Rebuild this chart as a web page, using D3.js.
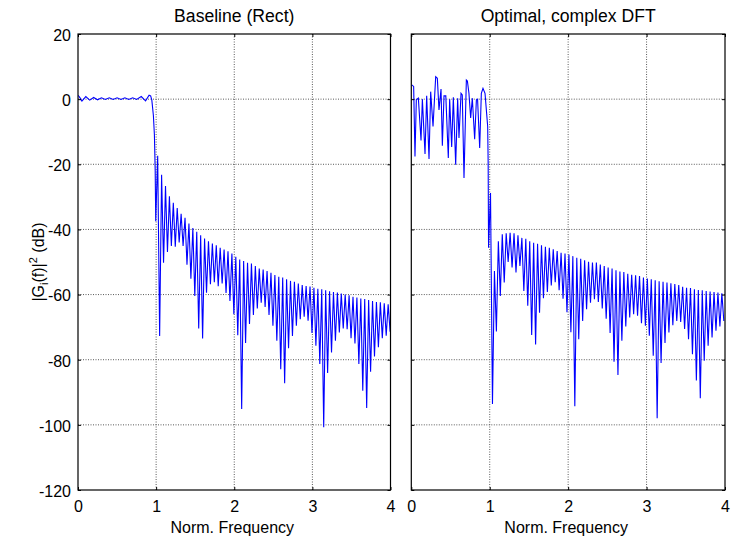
<!DOCTYPE html>
<html>
<head>
<meta charset="utf-8">
<script src="https://cdn.jsdelivr.net/npm/d3@7"></script>
<style>
  html, body { margin: 0; padding: 0; background: #fff; }
  svg { display: block; }
  text { font-family: "Liberation Sans", Arial, sans-serif; fill: #000; }
</style>
</head>
<body>
<svg id="chart" width="737" height="541"></svg>
<script>
// axis ticks
const freqTicks = [0, 1, 2, 3, 4];
const dbTicks = [20, 0, -20, -40, -60, -80, -100, -120];
const titles = ['Baseline (Rect)', 'Optimal, complex DFT'];

// sidelobe grid: nulls every lobeStep starting at *NullStart, peaks half-way between
const lobeStep = 0.05;

// ---- Baseline (Rect) ----
const rectPassF  = [0, 0.02, 0.05, 0.1, 0.15, 0.2, 0.25, 0.3, 0.35, 0.4, 0.45, 0.5, 0.55, 0.6, 0.65, 0.7, 0.75, 0.81, 0.865, 0.91, 0.93, 0.945, 0.965, 0.978, 0.988];
const rectPassDb = [1.2, 0.6, -0.6, 0.8, -0.3, 0.5, -0.2, 0.4, -0.1, 0.4, -0.1, 0.4, -0.1, 0.4, -0.1, 0.4, -0.1, 0.8, -0.5, 1.2, 1.0, -0.3, -5, -11, -22];
const rectNullStart = 0.995;
const rectNullDb = [-37.5, -72.7, -50.2, -46.9, -45.1, -45.3, -44.0, -45.1, -50.8, -55.1,
  -60.4, -70.4, -73.5, -59.4, -56.8, -56.2, -57.4, -56.6, -59.5, -62.0,
  -66.0, -72.5, -95.1, -74.9, -69.0, -66.3, -64.3, -62.5, -63.8, -66.3,
  -69.6, -74.2, -82.9, -87.2, -76.5, -72.7, -69.6, -67.6, -66.8, -68.0,
  -71.8, -75.7, -81.3, -100.7, -84.1, -77.8, -74.2, -71.6, -70.4, -70.6,
  -73.4, -75.0, -81.3, -89.5, -94.8, -83.7, -79.0, -76.2, -73.4, -72.6, -71.4];
const rectPeakDb = [-17.4, -23.2, -26.7, -29.8, -31.8, -33.4, -35.2, -36.4, -38.2, -39.6,
  -40.7, -41.8, -42.8, -43.6, -44.3, -44.9, -45.6, -46.2, -46.7, -47.4,
  -48.4, -49.2, -49.7, -50.2, -50.5, -51.2, -52.0, -52.3, -52.8, -53.3,
  -54.0, -54.5, -54.8, -55.3, -55.8, -56.1, -56.6, -57.1, -57.4, -57.5,
  -57.9, -58.2, -58.4, -58.7, -59.0, -59.2, -59.4, -59.7, -60.0, -60.2,
  -60.7, -60.9, -61.2, -61.4, -61.7, -62.0, -62.3, -62.4, -62.7, -63.0];

// ---- Optimal, complex DFT ----
const optPassF  = [0.005, 0.03, 0.047, 0.064, 0.09, 0.124, 0.141, 0.175, 0.196, 0.226, 0.247, 0.277, 0.311, 0.332, 0.353, 0.379, 0.396, 0.417, 0.44, 0.472, 0.489, 0.515, 0.536, 0.566, 0.591, 0.608, 0.634, 0.65, 0.672, 0.702, 0.715, 0.735, 0.757, 0.778, 0.808, 0.83, 0.845, 0.872, 0.893, 0.914, 0.94, 0.957, 0.974, 0.98];
const optPassDb = [4.4, 3.9, -17.6, -0.2, 0.3, -12.7, 0.0, -16.8, 1.0, -18.4, 2.3, -8.4, 6.9, 6.4, -3.3, 3.1, -14.3, 1.0, 1.0, -18.1, 0.0, -14.7, 0.6, -20.1, 0.3, -11.9, 1.8, 1.3, -24.2, 5.9, 5.6, 1.8, -5.8, 0.3, -12.3, -0.2, 0.0, -15.0, 1.8, 3.3, 1.8, -3.3, -8.4, -19.6];
const optNullStart = 0.985;
const optNullDb = [-45.6, -93.6, -71.3, -60.4, -56.3, -50.0, -51.7, -53.2, -51.2, -58.9,
  -63.4, -72.4, -75.3, -65.6, -61.1, -59.2, -57.2, -56.2, -58.7, -61.3,
  -65.4, -71.6, -94.3, -73.7, -68.1, -64.5, -62.5, -61.4, -62.3, -64.3,
  -67.4, -71.8, -80.6, -84.7, -74.2, -69.8, -67.0, -66.0, -66.5, -68.8,
  -69.6, -72.6, -78.8, -98.0, -81.0, -74.9, -71.6, -69.4, -68.1, -68.4,
  -70.6, -73.7, -78.3, -86.4, -91.8, -80.3, -75.7, -73.2, -71.1, -69.8, -68.1];
const optPeakDb = [-28.8, -52.8, -43.6, -41.5, -41.2, -41.0, -41.2, -41.8, -42.6, -42.9,
  -43.6, -44.1, -44.4, -44.9, -45.3, -45.6, -46.1, -46.6, -47.2, -47.4,
  -47.7, -48.2, -48.7, -49.0, -49.5, -49.9, -50.2, -50.2, -50.8, -51.2,
  -51.7, -52.0, -52.5, -52.9, -53.1, -53.6, -53.9, -54.1, -54.3, -54.8,
  -55.1, -55.3, -55.6, -55.9, -56.1, -56.3, -56.5, -56.8, -57.1, -57.6,
  -57.9, -58.0, -58.4, -58.6, -58.7, -58.9, -59.1, -59.2, -59.4, -59.6];

function spectrum(passF, passDb, nullStart, nullDb, peakDb) {
  const pts = passF.map((f, i) => ({ f, db: passDb[i] }));
  nullDb.forEach((db, k) => {
    pts.push({ f: nullStart + k * lobeStep, db });
    if (k < peakDb.length) pts.push({ f: nullStart + (k + 0.5) * lobeStep, db: peakDb[k] });
  });
  return pts;
}

const panels = [
  { title: titles[0], x0: 78, x1: 390.5, data: spectrum(rectPassF, rectPassDb, rectNullStart, rectNullDb, rectPeakDb), yLabels: true },
  { title: titles[1], x0: 411.3, x1: 725, data: spectrum(optPassF, optPassDb, optNullStart, optNullDb, optPeakDb), yLabels: false }
];

const svg = d3.select('#chart');
const plotTop = 34, plotBottom = 490;
const y = d3.scaleLinear().domain([-120, 20]).range([plotBottom, plotTop]);
const fs = 16;
const plain = d => String(d); // hyphen minus, like the original

panels.forEach((p, i) => {
  const x = d3.scaleLinear().domain([0, 4]).range([p.x0, p.x1]);
  const g = svg.append('g');

  // dotted grid
  const grid = g.append('g').attr('stroke', '#5a5a5a').attr('stroke-width', 1).attr('stroke-dasharray', '1 1.5');
  freqTicks.slice(1, -1).forEach(t => {
    grid.append('line').attr('x1', x(t)).attr('x2', x(t)).attr('y1', plotTop).attr('y2', plotBottom);
  });
  dbTicks.slice(1, -1).forEach(t => {
    grid.append('line').attr('x1', p.x0).attr('x2', p.x1).attr('y1', y(t)).attr('y2', y(t));
  });

  // spectrum trace
  const clipId = 'clip' + i;
  g.append('clipPath').attr('id', clipId).append('rect')
    .attr('x', p.x0).attr('y', plotTop).attr('width', p.x1 - p.x0).attr('height', plotBottom - plotTop);
  g.append('path').datum(p.data)
    .attr('clip-path', `url(#${clipId})`)
    .attr('fill', 'none').attr('stroke', '#0000ff').attr('stroke-width', 1.1)
    .attr('stroke-linejoin', 'miter')
    .attr('d', d3.line().x(d => x(d.f)).y(d => y(d.db)));

  // axes: ticks point inward, on all four sides
  g.append('g').attr('transform', `translate(0,${plotBottom})`)
    .call(d3.axisBottom(x).tickValues(freqTicks).tickSize(-3).tickPadding(11).tickFormat(plain));
  g.append('g').attr('transform', `translate(0,${plotTop})`)
    .call(d3.axisTop(x).tickValues(freqTicks).tickSize(-3).tickFormat(''));
  const lAxis = g.append('g').attr('transform', `translate(${p.x0},0)`)
    .call(d3.axisLeft(y).tickValues(dbTicks).tickSize(-3).tickPadding(7)
      .tickFormat(p.yLabels ? plain : ''));
  g.append('g').attr('transform', `translate(${p.x1},0)`)
    .call(d3.axisRight(y).tickValues(dbTicks).tickSize(-3).tickFormat(''));

  g.selectAll('.domain').remove();
  g.selectAll('.tick line').attr('stroke', '#000');
  g.selectAll('.tick text').attr('font-size', fs).attr('font-family', '"Liberation Sans", Arial, sans-serif').attr('fill', '#000');
  lAxis.selectAll('.tick text').attr('dy', '0.4em');

  // box
  g.append('rect').attr('x', p.x0).attr('y', plotTop).attr('width', p.x1 - p.x0).attr('height', plotBottom - plotTop)
    .attr('fill', 'none').attr('stroke', '#000').attr('stroke-width', 1.2);

  // title and x label
  g.append('text').attr('x', (p.x0 + p.x1) / 2).attr('y', 21.5)
    .attr('text-anchor', 'middle').attr('font-size', 17.6).text(p.title);
  g.append('text').attr('x', (p.x0 + p.x1) / 2 - 2).attr('y', 532.5)
    .attr('text-anchor', 'middle').attr('font-size', fs).text('Norm. Frequency');
});

// y label |G_i(f)|^2 (dB)
const yl = svg.append('text')
  .attr('transform', `translate(44,${(plotTop + plotBottom) / 2}) rotate(-90)`)
  .attr('text-anchor', 'middle').attr('font-size', fs);
yl.append('tspan').text('|G');
yl.append('tspan').attr('font-size', 11).attr('dy', 4).text('i');
yl.append('tspan').attr('dy', -4).text('(f)|');
yl.append('tspan').attr('font-size', 11).attr('dy', -7).text('2');
yl.append('tspan').attr('dy', 7).text(' (dB)');
</script>
</body>
</html>
